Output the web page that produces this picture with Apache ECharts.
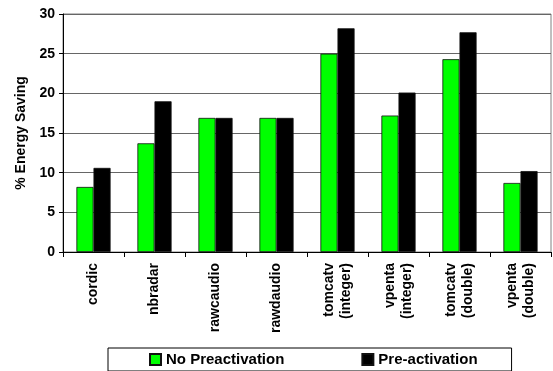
<!DOCTYPE html>
<html>
<head>
<meta charset="utf-8">
<script src="https://cdn.jsdelivr.net/npm/echarts@6/dist/echarts.min.js"></script>
<style>
  html, body { margin: 0; padding: 0; background: #fff; }
  #chart { width: 553px; height: 371px; }
</style>
</head>
<body>
<div id="chart"></div>
<script>
// Benchmarks and energy savings (%) with and without preactivation
const benchmarks = ['cordic', 'nbradar', 'rawcaudio', 'rawdaudio',
  'tomcatv\n(integer)', 'vpenta\n(integer)', 'tomcatv\n(double)', 'vpenta\n(double)'];
const noPreactivation = [8.2, 13.7, 16.9, 16.9, 25.0, 17.2, 24.3, 8.7];
const preActivation = [10.6, 19.0, 16.9, 16.9, 28.2, 20.1, 27.7, 10.2];
const seriesNames = ['No Preactivation', 'Pre-activation'];
const yTicks = { min: 0, max: 30, interval: 5 };

const font = 'Liberation Sans, Arial, sans-serif';
const chart = echarts.init(document.getElementById('chart'));

chart.setOption({
  animation: false,
  backgroundColor: '#fff',
  grid: {
    left: 63, right: 2, top: 14, bottom: 119,
    show: true, borderColor: '#808080', borderWidth: 1
  },
  legend: {
    data: seriesNames,
    left: 108, top: 348,
    padding: [4, 34, 4, 41],
    itemGap: 77,
    itemWidth: 11, itemHeight: 11,
    borderColor: '#000', borderWidth: 1,
    icon: 'rect',
    textStyle: { fontFamily: font, fontWeight: 'bold', fontSize: 15, color: '#000' }
  },
  xAxis: {
    type: 'category',
    data: benchmarks,
    axisLine: { lineStyle: { color: '#000', width: 1 } },
    axisTick: { show: true, length: 5, lineStyle: { color: '#000' } },
    axisLabel: {
      rotate: 90, interval: 0, margin: 11,
      fontFamily: font, fontWeight: 'bold', fontSize: 14, color: '#000', lineHeight: 17
    },
    splitLine: { show: false }
  },
  yAxis: {
    type: 'value',
    min: yTicks.min, max: yTicks.max, interval: yTicks.interval,
    name: '% Energy Saving',
    nameLocation: 'middle',
    nameGap: 35,
    nameTextStyle: { fontFamily: font, fontWeight: 'bold', fontSize: 14, color: '#000' },
    axisLine: { show: true, lineStyle: { color: '#000', width: 1 } },
    axisTick: { show: true, length: 4, lineStyle: { color: '#000' } },
    axisLabel: { fontFamily: font, fontWeight: 'bold', fontSize: 14, color: '#000', margin: 8 },
    splitLine: { show: true, lineStyle: { color: '#666', width: 1 } }
  },
  series: [
    {
      name: seriesNames[0], type: 'bar', data: noPreactivation,
      barGap: '0%', barCategoryGap: '44%',
      itemStyle: { color: '#00ff00', borderColor: '#111', borderWidth: 0.8 }
    },
    {
      name: seriesNames[1], type: 'bar', data: preActivation,
      itemStyle: { color: '#000', borderColor: '#111', borderWidth: 0.8 }
    }
  ]
});
</script>
</body>
</html>
